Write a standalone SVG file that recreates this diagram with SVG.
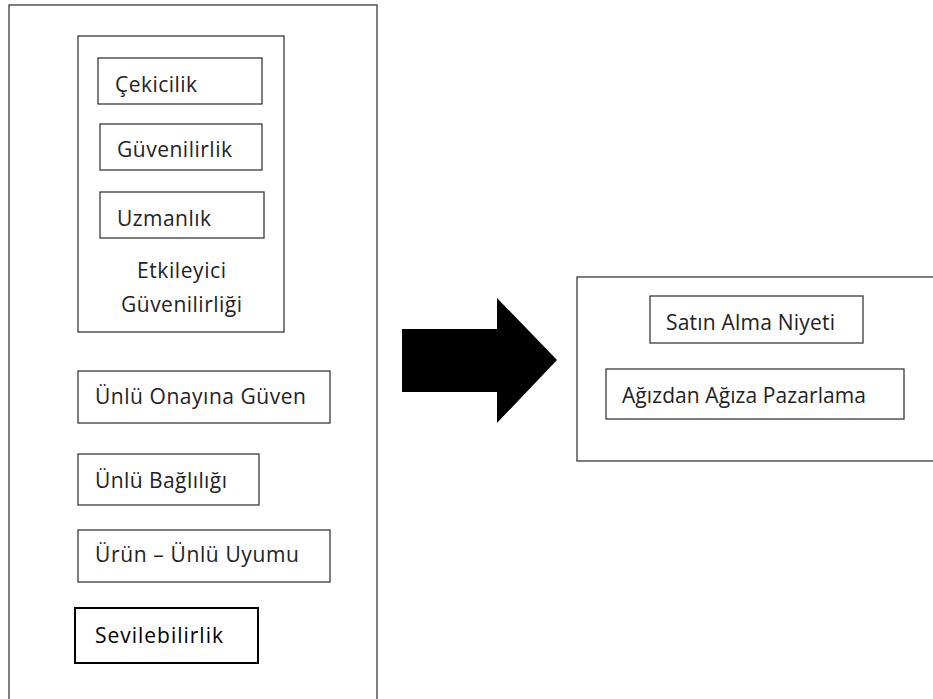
<svg xmlns="http://www.w3.org/2000/svg" width="933" height="699" viewBox="0 0 933 699">
  <style>
    .box { fill: #ffffff; stroke: #3a3a3a; stroke-width: 1.3; }
    .box-strong { fill: #ffffff; stroke: #000000; stroke-width: 2; }
    .label { font-family: "Open Sans", "Noto Sans", sans-serif; font-size: 21px; fill: #222222; }
    .mid { text-anchor: middle; }
  </style>
  <rect width="933" height="699" fill="#ffffff"/>

  <!-- left column: source factors -->
  <g id="sources">
    <rect class="box" x="9" y="5" width="368" height="710"/>
  </g>

  <g id="credibility">
    <rect class="box" x="78" y="36" width="206" height="296"/>
    <text class="label mid" x="181.5" y="278" textLength="89">Etkileyici</text>
    <text class="label mid" x="181.5" y="312" textLength="121">Güvenilirliği</text>
  </g>
  <g id="attractiveness">
    <rect class="box" x="98" y="58" width="164" height="46"/>
    <text class="label" x="115" y="92" textLength="82">Çekicilik</text>
  </g>
  <g id="trustworthiness">
    <rect class="box" x="100" y="124" width="162" height="46"/>
    <text class="label" x="117" y="157" textLength="115">Güvenilirlik</text>
  </g>
  <g id="expertise">
    <rect class="box" x="100" y="192" width="164" height="46"/>
    <text class="label" x="117" y="226" textLength="94">Uzmanlık</text>
  </g>
  <g id="endorsement-trust">
    <rect class="box" x="78" y="371" width="252" height="52"/>
    <text class="label" x="95" y="404" textLength="211">Ünlü Onayına Güven</text>
  </g>
  <g id="celebrity-attachment">
    <rect class="box" x="78" y="454" width="181" height="51"/>
    <text class="label" x="95" y="488" textLength="132">Ünlü Bağlılığı</text>
  </g>
  <g id="product-fit">
    <rect class="box" x="78" y="530" width="252" height="52"/>
    <text class="label" x="95" y="562" textLength="204">Ürün – Ünlü Uyumu</text>
  </g>
  <g id="likeability">
    <rect class="box-strong" x="75" y="608" width="183" height="55"/>
    <text class="label" x="95" y="643" textLength="128" style="fill:#000000">Sevilebilirlik</text>
  </g>

  <!-- connector: block arrow -->
  <g id="connectors">
    <polygon points="402,329 497,329 497,298 557,360 497,423 497,392 402,392" fill="#000000"/>
  </g>

  <!-- right column: outcomes -->
  <g id="outcomes">
    <rect class="box" x="577" y="277" width="380" height="184"/>
  </g>
  <g id="purchase-intention">
    <rect class="box" x="650" y="296" width="213" height="47"/>
    <text class="label" x="666" y="330" textLength="169">Satın Alma Niyeti</text>
  </g>
  <g id="word-of-mouth">
    <rect class="box" x="606" y="369" width="298" height="50"/>
    <text class="label" x="622" y="403" textLength="244">Ağızdan Ağıza Pazarlama</text>
  </g>
</svg>
